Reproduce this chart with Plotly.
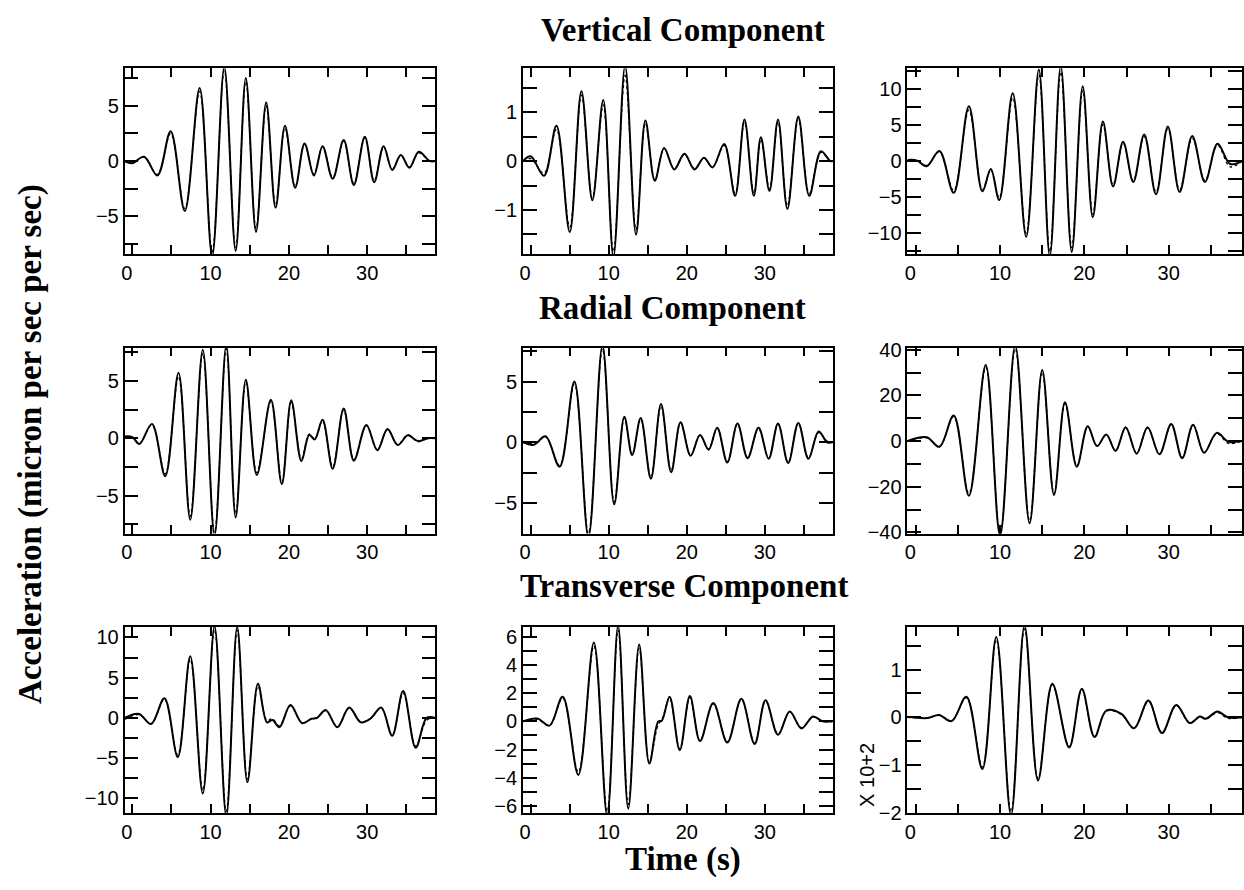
import plotly.graph_objects as go

# ---------------- data (extrema) ----------------
# Vertical component
v1_t = [-1, 0, 1.5, 3.2, 4.9, 6.7, 8.6, 10.2, 11.75, 13.2, 14.5, 15.8, 17.1, 18.3, 19.5, 20.8, 22.0, 23.2, 24.3, 25.6, 27.0, 28.3, 29.7, 30.9, 32.1, 33.2, 34.3, 35.4, 36.6, 38.0, 38.7]
v1_obs = [0, -0.2, 0.4, -1.3, 2.7, -4.5, 6.6, -8.6, 8.5, -8.1, 7.5, -6.4, 5.3, -4.2, 3.2, -2.4, 1.6, -1.3, 1.35, -1.6, 1.9, -2.15, 2.2, -1.9, 1.35, -0.8, 0.55, -0.6, 0.85, 0, 0]
v1_syn = [0, -0.15, 0.35, -1.2, 2.5, -4.3, 6.3, -8.2, 8.2, -7.8, 7.2, -6.1, 5.0, -4.0, 3.0, -2.3, 1.5, -1.2, 1.3, -1.5, 1.8, -2.0, 2.1, -1.8, 1.3, -0.75, 0.5, -0.55, 0.75, 0, 0]

v2_t = [-1, 0, 1.7, 3.3, 5.0, 6.5, 7.9, 9.3, 10.6, 12.1, 13.5, 14.7, 15.9, 17.1, 18.4, 19.7, 21.0, 22.2, 23.3, 24.8, 26.2, 27.4, 28.6, 29.5, 30.6, 31.7, 32.9, 34.3, 35.7, 37.2, 38.4, 38.7]
v2_obs = [0, 0.1, -0.3, 0.72, -1.45, 1.43, -0.8, 1.25, -1.95, 1.95, -1.5, 0.83, -0.4, 0.27, -0.17, 0.15, -0.17, 0.07, -0.13, 0.35, -0.71, 0.85, -0.71, 0.49, -0.61, 0.85, -0.98, 0.91, -0.71, 0.2, 0, 0]
v2_syn = [0, 0.05, -0.25, 0.65, -1.35, 1.35, -0.75, 1.15, -1.85, 1.75, -1.4, 0.78, -0.38, 0.25, -0.15, 0.13, -0.15, 0.06, -0.12, 0.32, -0.66, 0.8, -0.66, 0.45, -0.57, 0.8, -0.92, 0.86, -0.66, 0.18, 0, 0]

v3_t = [-1, 0.1, 1.3, 2.8, 4.5, 6.3, 7.9, 8.9, 9.9, 11.5, 13.1, 14.6, 15.9, 17.2, 18.5, 19.8, 21.0, 22.2, 23.4, 24.6, 25.8, 27.1, 28.5, 29.9, 31.3, 32.8, 34.3, 35.8, 37.3, 38.7]
v3_obs = [0.15, 0.1, -0.7, 1.4, -4.4, 7.6, -4.2, -1.1, -5.4, 9.4, -10.5, 12.7, -13.2, 13.2, -12.6, 10.4, -7.8, 5.5, -3.5, 2.7, -2.9, 3.7, -4.6, 4.8, -4.3, 3.5, -2.9, 2.4, -0.4, 0]
v3_syn = [0.05, 0.0, -0.6, 1.3, -4.1, 7.1, -4.0, -1.2, -5.1, 8.8, -10.0, 12.0, -12.6, 12.4, -12.0, 9.8, -7.4, 5.1, -3.3, 2.5, -2.7, 3.4, -4.3, 4.5, -4.0, 3.2, -2.7, 2.2, -0.8, 0]

# Radial component
r1_t = [-1, 0, 0.9, 2.5, 4.2, 5.9, 7.4, 9.0, 10.5, 12.0, 13.2, 14.5, 15.9, 17.7, 19.1, 20.3, 21.6, 22.6, 23.3, 24.3, 25.6, 27.0, 28.3, 29.9, 31.3, 32.6, 33.9, 35.2, 36.5, 37.8, 38.7]
r1_obs = [0.15, 0.1, -0.5, 1.25, -3.3, 5.7, -7.1, 7.7, -8.5, 8.1, -6.9, 5.1, -3.2, 3.35, -4.0, 3.3, -2.0, 0.3, -0.1, 1.6, -2.65, 2.6, -1.95, 1.15, -1.05, 0.8, -0.6, 0.25, -0.25, 0, 0]
r1_syn = [0.1, 0.05, -0.45, 1.15, -3.1, 5.4, -6.8, 7.4, -8.2, 7.8, -6.6, 4.9, -3.0, 3.2, -3.8, 3.1, -1.8, 0.35, -0.05, 1.5, -2.5, 2.45, -1.85, 1.1, -1.0, 0.75, -0.55, 0.3, -0.3, 0.05, 0]

r2_t = [-1, 0.4, 1.9, 3.7, 5.6, 7.4, 9.2, 10.7, 12.0, 13.0, 14.1, 15.4, 16.7, 18.0, 19.2, 20.5, 21.7, 22.8, 23.9, 25.2, 26.5, 27.8, 29.2, 30.5, 31.7, 33.0, 34.3, 35.6, 36.9, 38.0, 38.7]
r2_obs = [0.05, -0.2, 0.5, -2.0, 5.0, -7.8, 8.0, -5.1, 2.1, -1.05, 2.0, -3.0, 3.15, -2.45, 1.65, -1.1, 0.6, -0.6, 1.2, -1.65, 1.55, -1.3, 1.2, -1.35, 1.55, -1.7, 1.6, -1.35, 0.9, 0, 0]
r2_syn = [0, -0.1, 0.45, -1.9, 4.8, -7.5, 7.7, -4.9, 2.0, -1.0, 1.9, -2.9, 3.0, -2.35, 1.6, -1.05, 0.6, -0.55, 1.15, -1.6, 1.5, -1.25, 1.15, -1.3, 1.5, -1.65, 1.55, -1.3, 0.8, 0.1, 0]

r3_t = [-1, 1.3, 2.8, 4.5, 6.3, 8.3, 10.0, 11.8, 13.5, 15.0, 16.4, 17.7, 19.1, 20.4, 21.5, 22.6, 23.7, 24.9, 26.2, 27.5, 28.9, 30.3, 31.6, 32.9, 34.2, 35.7, 37.1, 38.7]
r3_obs = [0, 1.7, -2.5, 11.2, -23.9, 33.3, -41.5, 42, -36, 31.2, -23.6, 17, -11.2, 6.5, -2.2, 2.9, -4.3, 6.1, -5.5, 6.1, -5.8, 7.5, -7.5, 7.2, -5.1, 3.6, -0.3, 0]
r3_syn = [0, 1.4, -2.3, 10.7, -23.0, 32.3, -40.5, 40.5, -35, 30.2, -23.0, 16.4, -10.8, 6.2, -2.0, 2.7, -4.1, 5.8, -5.3, 5.8, -5.5, 7.1, -7.1, 6.9, -4.9, 3.3, -1.0, 0]

# Transverse component
t1_t = [-1, 0.85, 2.4, 4.1, 5.8, 7.4, 9.0, 10.5, 12.0, 13.4, 14.7, 16.05, 17.2, 17.9, 18.8, 20.2, 21.7, 22.9, 23.6, 24.7, 26.2, 27.7, 29.2, 30.4, 31.8, 33.2, 34.6, 36.2, 37.6, 38.7]
t1_obs = [0, 0.5, -0.75, 2.45, -4.85, 7.65, -9.4, 11.4, -12.2, 11.3, -8.0, 4.25, -0.55, -0.25, -1.15, 1.6, -0.65, -0.1, 0, 1.0, -1.15, 1.3, -0.55, -0.1, 1.3, -2.2, 3.35, -3.7, 0, 0]
t1_syn = [-0.2, 0.4, -0.7, 2.3, -4.6, 7.3, -9.0, 11.0, -11.6, 10.9, -7.6, 3.9, -0.3, -0.1, -1.0, 1.5, -0.6, -0.1, 0, 0.9, -1.1, 1.2, -0.5, -0.1, 1.2, -2.1, 3.1, -3.5, -0.3, 0]

t2_t = [-1, 0.85, 2.4, 4.1, 6.1, 8.1, 9.8, 11.2, 12.5, 13.9, 15.2, 16.35, 16.8, 17.8, 19.1, 20.4, 21.7, 23.4, 25.2, 27.0, 28.7, 30.1, 31.7, 33.2, 34.7, 36.2, 37.4, 38.7]
t2_obs = [0, 0.2, -0.3, 1.75, -3.8, 5.6, -6.7, 6.8, -6.2, 5.45, -3.0, 0, 0.05, 1.75, -2.05, 1.8, -1.4, 1.3, -1.5, 1.6, -1.6, 1.5, -0.95, 0.7, -0.5, 0.35, 0, 0]
t2_syn = [0, 0.15, -0.3, 1.65, -3.6, 5.35, -6.4, 6.5, -5.9, 5.2, -2.85, -0.2, 0.1, 1.65, -1.95, 1.7, -1.35, 1.25, -1.45, 1.55, -1.55, 1.45, -0.9, 0.65, -0.45, 0.3, 0, 0]

t3_t = [-1, 1.4, 2.75, 4.25, 6.0, 7.9, 9.55, 11.3, 12.9, 14.5, 16.2, 18.2, 19.7, 21.2, 22.6, 24.4, 25.9, 27.6, 29.2, 30.9, 32.5, 33.7, 34.4, 35.8, 37.0, 38.7]
t3_obs = [0.01, -0.015, 0.05, -0.08, 0.43, -1.08, 1.68, -2.05, 1.92, -1.32, 0.7, -0.63, 0.6, -0.41, 0.14, 0.07, -0.23, 0.35, -0.33, 0.26, -0.12, 0.015, -0.03, 0.12, 0.0, 0]
t3_syn = [0, -0.01, 0.04, -0.07, 0.41, -1.04, 1.63, -1.98, 1.85, -1.28, 0.68, -0.61, 0.58, -0.4, 0.13, 0.06, -0.22, 0.33, -0.32, 0.25, -0.12, 0.01, -0.04, 0.1, -0.02, 0]

# axis settings per panel: y range, tick values, labelled values
y_ranges = [[-8.4, 8.4], [-1.9, 1.9], [-12.9, 12.9],
            [-8.3, 7.9], [-7.5, 7.8], [-40.5, 41],
            [-11.8, 11.3], [-6.5, 6.7], [-2.0, 1.89]]
y_ticks = [[-7.5, -5, -2.5, 0, 2.5, 5, 7.5],
           [-1.5, -1, -0.5, 0, 0.5, 1, 1.5],
           [-12.5, -10, -7.5, -5, -2.5, 0, 2.5, 5, 7.5, 10, 12.5],
           [-7.5, -5, -2.5, 0, 2.5, 5, 7.5],
           [-7.5, -5, -2.5, 0, 2.5, 5, 7.5],
           [-40, -30, -20, -10, 0, 10, 20, 30, 40],
           [-10, -7.5, -5, -2.5, 0, 2.5, 5, 7.5, 10],
           [-6, -5, -4, -3, -2, -1, 0, 1, 2, 3, 4, 5, 6],
           [-2, -1.5, -1, -0.5, 0, 0.5, 1, 1.5]]
y_labels = [[-5, 0, 5], [-1, 0, 1], [-10, -5, 0, 5, 10],
            [-5, 0, 5], [-5, 0, 5], [-40, -20, 0, 20, 40],
            [-10, -5, 0, 5, 10], [-6, -4, -2, 0, 2, 4, 6], [-2, -1, 0, 1]]
x_ticks = [0, 5, 10, 15, 20, 25, 30, 35]
x_labels = [0, 10, 20, 30]
x_range = [-1, 38.7]

series = [(v1_t, v1_obs, v1_syn), (v2_t, v2_obs, v2_syn), (v3_t, v3_obs, v3_syn),
          (r1_t, r1_obs, r1_syn), (r2_t, r2_obs, r2_syn), (r3_t, r3_obs, r3_syn),
          (t1_t, t1_obs, t1_syn), (t2_t, t2_obs, t2_syn), (t3_t, t3_obs, t3_syn)]

# ---------------- layout geometry (pixels) ----------------
W, H = 1244, 890
cols_px = [(122, 434), (522, 833), (908, 1244)]
rows_px = [(60.5, 250.7), (346.3, 536.6), (632.2, 822.4)]

TICKFONT = dict(family="Liberation Sans, Arial, sans-serif", size=20, color="black")
TITLEFONT = dict(family="Liberation Serif, Times New Roman, serif", size=33, color="black")


def fmt(v):
    s = ("%g" % v)
    return s.replace("-", "\u2212")


fig = go.Figure()
layout = {}
for i, (t, obs, syn) in enumerate(series):
    r, c = divmod(i, 3)
    n = i + 1
    xa = "x" if n == 1 else f"x{n}"
    ya = "y" if n == 1 else f"y{n}"
    fig.add_trace(go.Scatter(x=t, y=syn, xaxis=xa, yaxis=ya, mode="lines",
                             line=dict(color="black", width=1.3, dash="dot", shape="spline", smoothing=1.0),
                             showlegend=False, hoverinfo="skip"))
    fig.add_trace(go.Scatter(x=t, y=obs, xaxis=xa, yaxis=ya, mode="lines",
                             line=dict(color="black", width=2, shape="spline", smoothing=1.0),
                             showlegend=False, hoverinfo="skip"))
    x0, x1 = cols_px[c]
    y0, y1 = rows_px[r]
    xt = []
    for v in x_ticks:
        if v in x_labels:
            xt.append("0\u00a0\u00a0" if v == 0 else str(v))
        else:
            xt.append("")
    yt = [fmt(v) if v in y_labels[i] else "" for v in y_ticks[i]]
    layout["xaxis" if n == 1 else f"xaxis{n}"] = dict(
        domain=[x0 / W, min(x1 / W, 1.0)], anchor=ya, range=x_range,
        tickmode="array", tickvals=x_ticks, ticktext=xt,
        ticks="inside", ticklen=9, tickwidth=1.5, tickcolor="black",
        showline=True, linecolor="black", linewidth=1.5, mirror="allticks",
        showgrid=False, zeroline=False, tickfont=TICKFONT, fixedrange=True)
    layout["yaxis" if n == 1 else f"yaxis{n}"] = dict(
        domain=[1 - y1 / H, 1 - y0 / H], anchor=xa, range=y_ranges[i],
        tickmode="array", tickvals=y_ticks[i], ticktext=yt,
        ticks="inside", ticklen=14, tickwidth=1.5, tickcolor="black",
        showline=True, linecolor="black", linewidth=1.5, mirror="allticks",
        showgrid=False, zeroline=False, tickfont=TICKFONT, fixedrange=True)


def ann(text, xp, yp, font, angle=0):
    return dict(text=text, x=xp / W, y=1 - yp / H, xref="paper", yref="paper",
                xanchor="center", yanchor="middle", showarrow=False, font=font,
                textangle=angle)


annotations = [
    ann("<b>Vertical Component</b>", 683, 21, TITLEFONT),
    ann("<b>Radial Component</b>", 672, 305.5, TITLEFONT),
    ann("<b>Transverse Component</b>", 684, 590.5, TITLEFONT),
    ann("<b>Time (s)</b>", 683, 870, TITLEFONT),
    ann("<b>Acceleration (micron per sec per sec)</b>", 27, 445, TITLEFONT, -90),
    ann("X 10+2", 868, 784, TICKFONT, -90),
]

fig.update_layout(width=W, height=H, autosize=False, margin=dict(l=0, r=0, t=0, b=0),
                  paper_bgcolor="white", plot_bgcolor="white",
                  annotations=annotations, **layout)
fig.write_html("out.html",
               config={"displayModeBar": False, "responsive": False},
               post_script="document.body.style.margin='0';document.body.style.overflow='hidden';")
